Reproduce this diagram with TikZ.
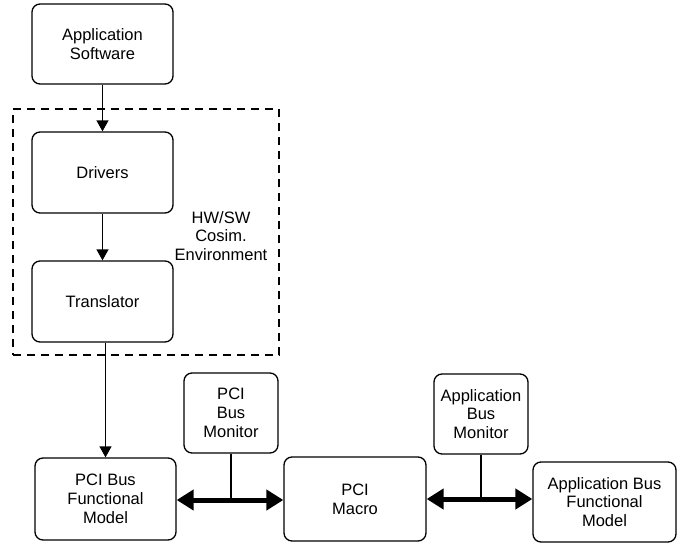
\documentclass[tikz,border=0pt]{standalone}
\usepackage{fontspec}
\setmainfont{Liberation Sans}
\usetikzlibrary{arrows.meta}
\tikzset{
  blk/.style={draw, line width=1.3pt, rounded corners=8pt, align=center, inner sep=0pt},
  envbox/.style={draw, line width=1.3pt, dash pattern=on 8pt off 6pt, inner sep=0pt},
  thin/.style={line width=1.3pt, -{Triangle[length=11pt,width=12pt]}},
  bus/.style={line width=5pt, {Triangle[length=17pt,width=20pt]}-{Triangle[length=17pt,width=20pt]}},
  tap/.style={line width=1.3pt}
}
\begin{document}
\begin{tikzpicture}[x=1pt,y=-1pt, font=\fontsize{16.5}{18.7}\selectfont]
\useasboundingbox (0,0) rectangle (680,546);
\node[envbox, minimum width=266pt, minimum height=246pt] (env) at (146,232) {};
\node[align=center] (envlabel) at (221,236) {HW/SW\\Cosim.\\Environment};
\node[blk, minimum width=141pt, minimum height=80pt] (app) at (102.5,44) {Application\\Software};
\node[blk, minimum width=141pt, minimum height=81pt] (drv) at (102.5,172.5) {Drivers};
\node[blk, minimum width=141pt, minimum height=81pt] (trn) at (102.5,301.5) {Translator};
\node[blk, minimum width=141pt, minimum height=82pt] (bfm) at (105.5,499) {PCI Bus\\Functional\\Model};
\node[blk, minimum width=94pt, minimum height=80pt] (pmon) at (231,413) {PCI\\Bus\\Monitor};
\node[blk, minimum width=142pt, minimum height=84pt] (mac) at (355,499) {PCI\\Macro};
\node[blk, minimum width=94pt, minimum height=80pt] (amon) at (481,414) {Application\\Bus\\Monitor};
\node[blk, minimum width=143pt, minimum height=80pt] (abfm) at (604.5,502) {Application Bus\\Functional\\Model};
\draw[thin] (app) -- (drv);
\draw[thin] (drv) -- (trn);
\draw[thin] (bfm.north |- trn.south) -- (bfm.north);
\coordinate (b1) at (231,500);
\coordinate (b2) at (481,499);
\draw[bus] (bfm.east |- b1) -- (mac.west |- b1);
\draw[bus] (mac.east |- b2) -- (abfm.west |- b2);
\draw[tap] (pmon.south) -- (b1);
\draw[tap] (amon.south) -- (b2);
\end{tikzpicture}
\end{document}
